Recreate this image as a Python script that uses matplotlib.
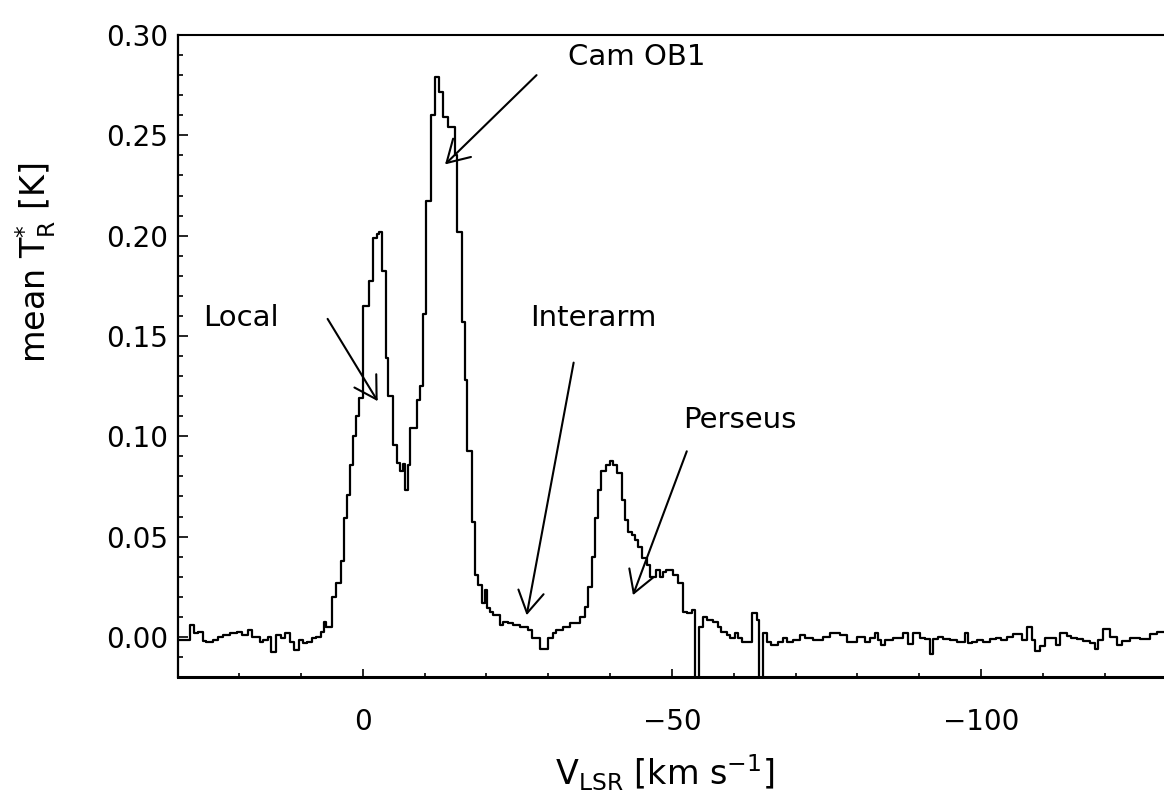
import matplotlib
matplotlib.use("Agg")
import matplotlib.pyplot as plt
from matplotlib.ticker import MultipleLocator, FormatStrFormatter

plt.rcParams['font.family'] = ['DejaVu Sans']
plt.rcParams['mathtext.default'] = 'regular'

# channel edges [km/s] and mean T_R* [K]
vel_edges = [29.9, 27.9, 27.3, 26.6, 25.8, 25.3, 24.2, 23.4, 22.6, 21.5,
             20.4, 19.6, 18.6, 18.0, 16.7, 16.1, 15.3, 14.8, 14.0, 13.2,
             12.6, 11.8, 11.2, 10.3, 9.7, 9.1, 8.3, 7.5, 6.7, 6.3,
             5.9, 5.0, 4.4, 3.6, 3.1, 2.6, 2.1, 1.6, 1.1, 0.6,
             0.0, -1.0, -1.7, -2.3, -2.6, -3.1, -3.8, -4.1, -4.8, -5.5,
             -6.0, -6.5, -6.8, -7.3, -7.7, -8.7, -9.2, -9.8, -10.2, -11.0,
             -11.7, -12.3, -13.0, -13.8, -14.9, -15.3, -16.1, -16.5, -16.9, -17.6,
             -18.1, -18.7, -19.2, -19.7, -20.1, -20.5, -21.1, -22.2, -22.7, -23.5,
             -24.3, -25.4, -26.7, -27.3, -28.6, -30.0, -30.8, -31.3, -32.4, -33.5,
             -35.1, -35.9, -36.5, -37.0, -37.5, -38.1, -38.6, -39.3, -40.0, -40.5,
             -41.1, -41.9, -42.4, -42.9, -43.5, -44.0, -44.5, -45.1, -45.9, -46.4,
             -47.5, -48.1, -48.6, -49.1, -50.2, -51.0, -51.8, -52.4, -53.2, -53.7,
             -54.4, -55.1, -55.6, -56.7, -57.5, -58.0, -58.9, -59.4, -60.2, -60.7,
             -61.3, -62.9, -63.7, -64.1, -64.8, -65.3, -66.1, -67.2, -68.0, -68.6,
             -69.6, -70.7, -71.5, -72.9, -74.5, -75.6, -77.2, -78.3, -79.9, -81.2,
             -82.0, -82.8, -83.4, -83.9, -84.5, -85.8, -87.4, -88.2, -89.0, -90.1,
             -90.9, -91.7, -92.3, -93.1, -93.9, -95.0, -96.1, -97.4, -97.9, -98.5,
             -99.3, -100.4, -101.5, -102.5, -103.3, -104.2, -105.2, -106.6, -107.4, -108.2,
             -108.7, -109.5, -110.4, -112.2, -112.8, -113.9, -114.6, -115.5, -116.5, -117.6,
             -118.4, -119.0, -119.8, -120.8, -122.0, -122.8, -124.1, -125.7, -127.3, -128.4,
             -130.0]

temp = [-0.0017, 0.0058, 0.0017, 0.0025, -0.0022, -0.0028, -0.0017, 0.0, 0.0008, 0.0017,
        0.0025, 0.0008, 0.0033, 0.0, -0.0028, -0.0017, 0.0, -0.0075, 0.0008, -0.0005,
        0.0017, -0.0025, -0.0067, -0.0017, -0.0033, -0.0025, -0.0008, 0.0, 0.0025, 0.0075,
        0.005, 0.02, 0.0267, 0.0378, 0.0592, 0.0708, 0.0858, 0.1, 0.11, 0.119,
        0.165, 0.1775, 0.199, 0.2008, 0.2017, 0.1825, 0.139, 0.12, 0.0958, 0.0867,
        0.0825, 0.086, 0.0733, 0.0858, 0.104, 0.118, 0.125, 0.161, 0.2175, 0.26,
        0.279, 0.2717, 0.259, 0.254, 0.24, 0.2017, 0.1567, 0.128, 0.0925, 0.0575,
        0.0308, 0.0258, 0.0167, 0.0233, 0.0142, 0.0125, 0.0108, 0.006, 0.0075, 0.0067,
        0.0058, 0.005, 0.0033, -0.0008, -0.0058, -0.0008, 0.0017, 0.0033, 0.005, 0.0067,
        0.01, 0.015, 0.025, 0.04, 0.0592, 0.0733, 0.0825, 0.0858, 0.0875, 0.0858,
        0.0817, 0.0683, 0.0583, 0.0525, 0.0508, 0.0483, 0.045, 0.0392, 0.0358, 0.03,
        0.0333, 0.03, 0.0325, 0.0333, 0.0308, 0.0267, 0.0125, 0.0117, 0.0133, -0.05,
        0.005, 0.01, 0.0083, 0.0075, 0.005, 0.0025, 0.0008, -0.0008, 0.0017, -0.0008,
        -0.0025, 0.0117, 0.0083, -0.05, 0.0017, -0.0025, -0.0042, -0.0025, -0.0008, -0.0025,
        -0.0017, 0.0008, -0.0008, -0.0017, 0.0, 0.0017, 0.0008, -0.0025, 0.0, -0.0025,
        -0.0005, 0.0017, -0.0017, -0.0042, -0.0017, -0.0005, 0.0017, -0.0038, 0.0017, -0.0008,
        -0.0012, -0.0083, -0.0012, 0.0, -0.0012, -0.0017, -0.0025, 0.0017, -0.0033, -0.0025,
        -0.0017, -0.0025, -0.0012, -0.0005, -0.0017, 0.0, 0.0012, -0.0017, 0.005, -0.0017,
        -0.0072, -0.0045, -0.0005, -0.0042, 0.0017, 0.0005, -0.0005, -0.001, -0.0022, -0.0033,
        -0.0058, -0.0017, 0.0038, 0.0, -0.0042, -0.0022, -0.0005, -0.0012, 0.0012, 0.0025]

# labels: (text, x, y) and arrows: (tail, tip)
labels = [("Local", 25.9, 0.155), ("Cam OB1", -33.2, 0.285),
          ("Interarm", -27.0, 0.155), ("Perseus", -51.8, 0.104)]
arrows = [((5.7, 0.1585), (-2.4, 0.1175)),
          ((-28.1, 0.28), (-13.3, 0.2355)),
          ((-34.1, 0.1367), (-26.5, 0.0108)),
          ((-52.4, 0.0925), (-43.7, 0.0208))]

fs = 20
fig = plt.figure(figsize=(11.64, 8), dpi=100)
ax = fig.add_axes([178/1164, 1 - 677/800, 1 - 178/1164, (677 - 35)/800])

ax.step(vel_edges, temp + [temp[-1]], where='post', color='k', lw=1.6)

ax.set_xlim(29.9, -129.6)
ax.set_ylim(-0.02, 0.30)

ax.xaxis.set_major_locator(MultipleLocator(50))
ax.xaxis.set_minor_locator(MultipleLocator(10))
ax.yaxis.set_major_locator(MultipleLocator(0.05))
ax.yaxis.set_minor_locator(MultipleLocator(0.01))
ax.yaxis.set_major_formatter(FormatStrFormatter('%.2f'))

ax.tick_params(axis='both', which='both', direction='in', top=False, right=False,
               labelsize=fs, width=1.2)
ax.tick_params(axis='x', which='major', length=6, pad=22)
ax.tick_params(axis='x', which='minor', length=3)
ax.tick_params(axis='y', which='major', length=7, pad=7)
ax.tick_params(axis='y', which='minor', length=3.5)

ax.spines['right'].set_visible(False)
ax.spines['top'].set_linewidth(1.5)
ax.spines['left'].set_linewidth(1.6)
ax.spines['bottom'].set_linewidth(2.2)

ax.set_xlabel(r'V$_{LSR}$ [km s$^{-1}$]', fontsize=24)
ax.set_ylabel(r'mean T$_{R}^{*}$ [K]', fontsize=24)
ax.xaxis.set_label_coords(0.494, -0.118)
ax.yaxis.set_label_coords(-0.122, 0.646)

for txt, x, y in labels:
    ax.text(x, y, txt, fontsize=21, ha='left', va='baseline')

for tail, tip in arrows:
    ax.annotate('', xy=tip, xytext=tail,
                arrowprops=dict(arrowstyle='->,head_length=0.78,head_width=0.46',
                                lw=1.5, color='k', mutation_scale=20,
                                shrinkA=0, shrinkB=0))

fig.savefig('out.png', dpi=100)
